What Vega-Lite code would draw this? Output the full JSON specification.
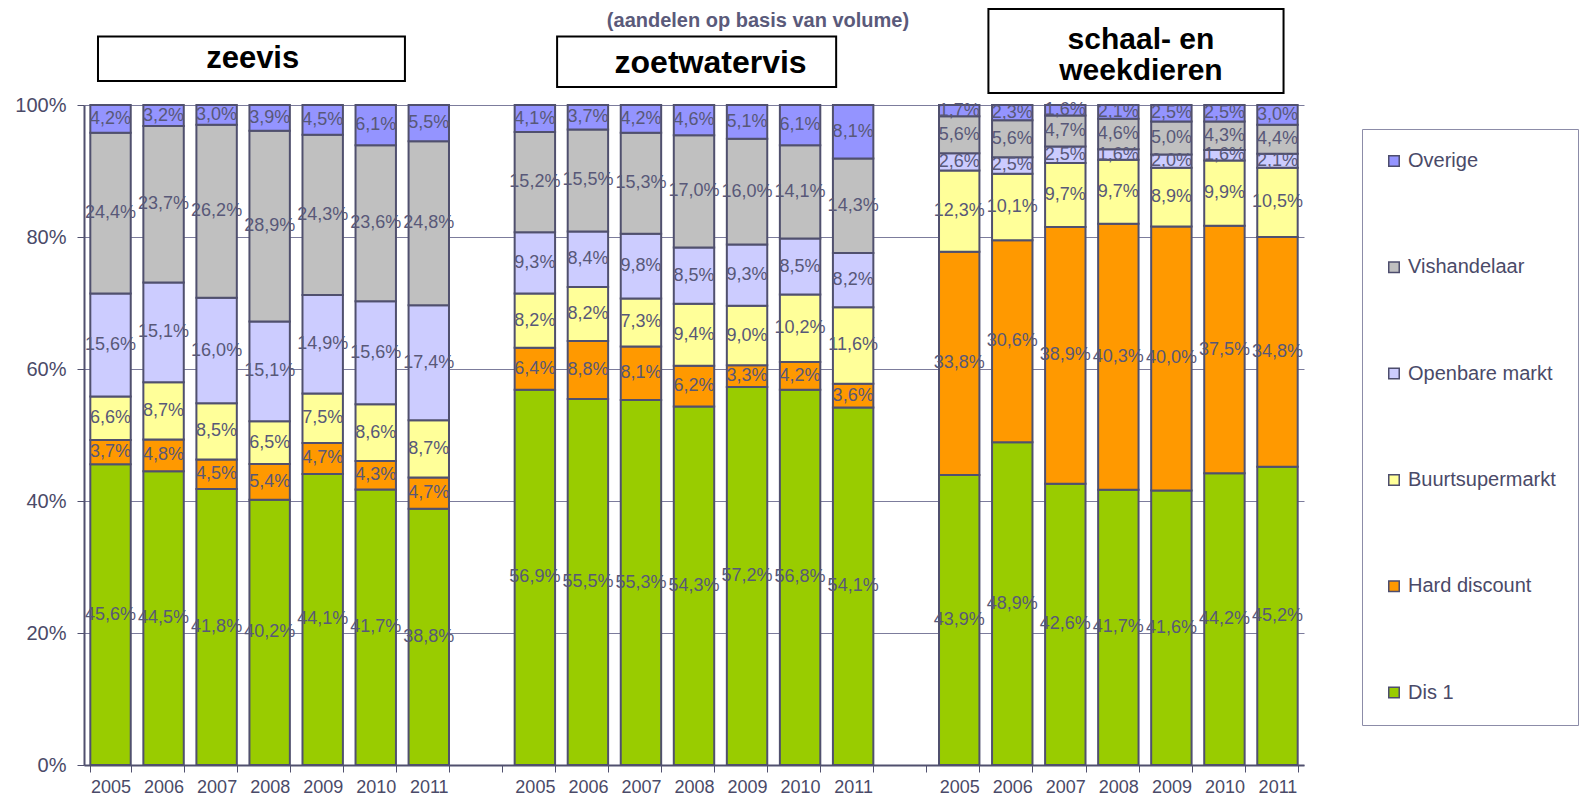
{
  "$schema": "https://vega.github.io/schema/vega-lite/v6.json",
  "width": 1220,
  "height": 660,
  "autosize": {"type": "none"},
  "padding": {"left": 84, "top": 105, "right": 278, "bottom": 32},
  "background": "white",
  "title": {"text": "(aandelen op basis van volume)", "fontSize": 20, "font": "Liberation Sans", "fontWeight": "bold", "color": "#5a5a7a", "frame": "group", "anchor": "middle", "dx": 64, "offset": -23},
  "datasets": {
    "kanalen": [
      {"groep": "zeevis", "jaar": "2005", "Dis 1": 0.456, "Hard discount": 0.037, "Buurtsupermarkt": 0.066, "Openbare markt": 0.156, "Vishandelaar": 0.244, "Overige": 0.042},
      {"groep": "zeevis", "jaar": "2006", "Dis 1": 0.445, "Hard discount": 0.048, "Buurtsupermarkt": 0.087, "Openbare markt": 0.151, "Vishandelaar": 0.237, "Overige": 0.032},
      {"groep": "zeevis", "jaar": "2007", "Dis 1": 0.418, "Hard discount": 0.045, "Buurtsupermarkt": 0.085, "Openbare markt": 0.160, "Vishandelaar": 0.262, "Overige": 0.030},
      {"groep": "zeevis", "jaar": "2008", "Dis 1": 0.402, "Hard discount": 0.054, "Buurtsupermarkt": 0.065, "Openbare markt": 0.151, "Vishandelaar": 0.289, "Overige": 0.039},
      {"groep": "zeevis", "jaar": "2009", "Dis 1": 0.441, "Hard discount": 0.047, "Buurtsupermarkt": 0.075, "Openbare markt": 0.149, "Vishandelaar": 0.243, "Overige": 0.045},
      {"groep": "zeevis", "jaar": "2010", "Dis 1": 0.417, "Hard discount": 0.043, "Buurtsupermarkt": 0.086, "Openbare markt": 0.156, "Vishandelaar": 0.236, "Overige": 0.061},
      {"groep": "zeevis", "jaar": "2011", "Dis 1": 0.388, "Hard discount": 0.047, "Buurtsupermarkt": 0.087, "Openbare markt": 0.174, "Vishandelaar": 0.248, "Overige": 0.055},
      {"groep": "zoetwatervis", "jaar": "2005", "Dis 1": 0.569, "Hard discount": 0.064, "Buurtsupermarkt": 0.082, "Openbare markt": 0.093, "Vishandelaar": 0.152, "Overige": 0.041},
      {"groep": "zoetwatervis", "jaar": "2006", "Dis 1": 0.555, "Hard discount": 0.088, "Buurtsupermarkt": 0.082, "Openbare markt": 0.084, "Vishandelaar": 0.155, "Overige": 0.037},
      {"groep": "zoetwatervis", "jaar": "2007", "Dis 1": 0.553, "Hard discount": 0.081, "Buurtsupermarkt": 0.073, "Openbare markt": 0.098, "Vishandelaar": 0.153, "Overige": 0.042},
      {"groep": "zoetwatervis", "jaar": "2008", "Dis 1": 0.543, "Hard discount": 0.062, "Buurtsupermarkt": 0.094, "Openbare markt": 0.085, "Vishandelaar": 0.170, "Overige": 0.046},
      {"groep": "zoetwatervis", "jaar": "2009", "Dis 1": 0.572, "Hard discount": 0.033, "Buurtsupermarkt": 0.090, "Openbare markt": 0.093, "Vishandelaar": 0.160, "Overige": 0.051},
      {"groep": "zoetwatervis", "jaar": "2010", "Dis 1": 0.568, "Hard discount": 0.042, "Buurtsupermarkt": 0.102, "Openbare markt": 0.085, "Vishandelaar": 0.141, "Overige": 0.061},
      {"groep": "zoetwatervis", "jaar": "2011", "Dis 1": 0.541, "Hard discount": 0.036, "Buurtsupermarkt": 0.116, "Openbare markt": 0.082, "Vishandelaar": 0.143, "Overige": 0.081},
      {"groep": "schaal- en weekdieren", "jaar": "2005", "Dis 1": 0.439, "Hard discount": 0.338, "Buurtsupermarkt": 0.123, "Openbare markt": 0.026, "Vishandelaar": 0.056, "Overige": 0.017},
      {"groep": "schaal- en weekdieren", "jaar": "2006", "Dis 1": 0.489, "Hard discount": 0.306, "Buurtsupermarkt": 0.101, "Openbare markt": 0.025, "Vishandelaar": 0.056, "Overige": 0.023},
      {"groep": "schaal- en weekdieren", "jaar": "2007", "Dis 1": 0.426, "Hard discount": 0.389, "Buurtsupermarkt": 0.097, "Openbare markt": 0.025, "Vishandelaar": 0.047, "Overige": 0.016},
      {"groep": "schaal- en weekdieren", "jaar": "2008", "Dis 1": 0.417, "Hard discount": 0.403, "Buurtsupermarkt": 0.097, "Openbare markt": 0.016, "Vishandelaar": 0.046, "Overige": 0.021},
      {"groep": "schaal- en weekdieren", "jaar": "2009", "Dis 1": 0.416, "Hard discount": 0.400, "Buurtsupermarkt": 0.089, "Openbare markt": 0.020, "Vishandelaar": 0.050, "Overige": 0.025},
      {"groep": "schaal- en weekdieren", "jaar": "2010", "Dis 1": 0.442, "Hard discount": 0.375, "Buurtsupermarkt": 0.099, "Openbare markt": 0.016, "Vishandelaar": 0.043, "Overige": 0.025},
      {"groep": "schaal- en weekdieren", "jaar": "2011", "Dis 1": 0.452, "Hard discount": 0.348, "Buurtsupermarkt": 0.105, "Openbare markt": 0.021, "Vishandelaar": 0.044, "Overige": 0.030}
    ]
  },
  "layer": [
    {
      "data": {"name": "kanalen"},
      "transform": [
        {"calculate": "datum.groep + '|' + datum.jaar", "as": "sleutel"},
        {"fold": ["Dis 1", "Hard discount", "Buurtsupermarkt", "Openbare markt", "Vishandelaar", "Overige"], "as": ["kanaal", "aandeel"]},
        {"calculate": "indexof(['Dis 1', 'Hard discount', 'Buurtsupermarkt', 'Openbare markt', 'Vishandelaar', 'Overige'], datum.kanaal)", "as": "volg"},
        {"stack": "aandeel", "groupby": ["sleutel"], "sort": [{"field": "volg", "order": "ascending"}], "offset": "normalize", "as": ["y0", "y1"]},
        {"calculate": "(datum.y0 + datum.y1) / 2", "as": "ym"},
        {"calculate": "replace(format(datum.aandeel * 100, '.1f'), '.', ',') + '%'", "as": "etiket"}
      ],
      "encoding": {
        "x": {
          "field": "sleutel", "type": "nominal", "sort": null,
          "scale": {
            "domain": ["zeevis|2005", "zeevis|2006", "zeevis|2007", "zeevis|2008", "zeevis|2009", "zeevis|2010", "zeevis|2011", "gap1",
                       "zoetwatervis|2005", "zoetwatervis|2006", "zoetwatervis|2007", "zoetwatervis|2008", "zoetwatervis|2009", "zoetwatervis|2010", "zoetwatervis|2011", "gap2",
                       "schaal- en weekdieren|2005", "schaal- en weekdieren|2006", "schaal- en weekdieren|2007", "schaal- en weekdieren|2008", "schaal- en weekdieren|2009", "schaal- en weekdieren|2010", "schaal- en weekdieren|2011"],
            "paddingInner": 0.238, "paddingOuter": 0.119
          },
          "axis": {
            "title": null,
            "labelExpr": "isString(datum.label) && indexof(datum.label, '|') > 0 ? split(datum.label, '|')[1] : ''",
            "labelAngle": 0, "tickBand": "extent", "tickColor": "#50506e", "tickSize": 7, "tickWidth": 1,
            "domainColor": "#50506e", "domainWidth": 2, "labelFontSize": 18, "labelFont": "Liberation Sans",
            "labelColor": "#4a4a68", "labelPadding": 6, "grid": false
          }
        }
      },
      "layer": [
        {
          "mark": {"type": "bar", "stroke": "#50506e", "strokeWidth": 2},
          "encoding": {
            "y": {
              "field": "y1", "type": "quantitative", "scale": {"domain": [0, 1]},
              "axis": {
                "title": null, "labelExpr": "isNumber(datum.value) ? round(datum.value * 100) + '%' : ''", "values": [0, 0.2, 0.4, 0.6, 0.8, 1], "grid": true,
                "gridColor": "#7c7c9c", "gridWidth": 1, "domainColor": "#50506e", "domainWidth": 2,
                "tickColor": "#50506e", "tickSize": 7, "labelFontSize": 20, "labelFont": "Liberation Sans",
                "labelColor": "#4a4a68", "labelPadding": 11
              }
            },
            "y2": {"field": "y0"},
            "color": {
              "field": "kanaal", "type": "nominal",
              "scale": {
                "domain": ["Overige", "Vishandelaar", "Openbare markt", "Buurtsupermarkt", "Hard discount", "Dis 1"],
                "range": ["#9494ff", "#c0c0c0", "#ccccff", "#ffff99", "#ff9900", "#99cc00"]
              },
              "legend": {
                "title": null,
                "orient": "none", "legendX": 1278, "legendY": 24, "padding": 22,
                "strokeColor": "#8c8ca8", "fillColor": "white", "rowPadding": 86.3,
                "symbolType": "square", "symbolSize": 110, "symbolStrokeColor": "#4d4d6d", "symbolStrokeWidth": 1.5,
                "labelFontSize": 20, "labelFont": "Liberation Sans", "labelColor": "#4a4a68", "labelOffset": 4, "labelLimit": 300
              }
            }
          }
        },
        {
          "mark": {"type": "text", "font": "Liberation Sans", "fontSize": 18, "color": "#585878", "baseline": "middle", "align": "center"},
          "encoding": {
            "y": {"field": "ym", "type": "quantitative", "scale": {"domain": [0, 1]}},
            "text": {"field": "etiket", "type": "nominal"}
          }
        }
      ]
    },
    {
      "data": {"values": [{"kop": "zeevis"}]},
      "layer": [
        {
          "mark": {"type": "rect", "fill": "white", "stroke": "black", "strokeWidth": 2},
          "encoding": {
            "x": {"datum": "zeevis|2005", "type": "nominal", "bandPosition": 0.19},
            "x2": {"datum": "zeevis|2011", "bandPosition": -0.09},
            "y": {"datum": 1.1039, "type": "quantitative", "scale": {"domain": [0, 1]}},
            "y2": {"datum": 1.0365}
          }
        },
        {
          "mark": {"type": "text", "font": "Liberation Sans", "fontWeight": "bold", "fontSize": 31, "color": "black", "baseline": "middle", "align": "center"},
          "encoding": {
            "x": {"datum": "zeevis|2008", "type": "nominal", "bandPosition": 0.08},
            "y": {"datum": 1.0703, "type": "quantitative", "scale": {"domain": [0, 1]}},
            "text": {"field": "kop"}
          }
        }
      ]
    },
    {
      "data": {"values": [{"kop": "zoetwatervis"}]},
      "layer": [
        {
          "mark": {"type": "rect", "fill": "white", "stroke": "black", "strokeWidth": 2},
          "encoding": {
            "x": {"datum": "zoetwatervis|2005", "type": "nominal", "bandPosition": 1.05},
            "x2": {"datum": "zoetwatervis|2011", "bandPosition": 0.08},
            "y": {"datum": 1.1039, "type": "quantitative", "scale": {"domain": [0, 1]}},
            "y2": {"datum": 1.0274}
          }
        },
        {
          "mark": {"type": "text", "font": "Liberation Sans", "fontWeight": "bold", "fontSize": 32, "color": "black", "baseline": "middle", "align": "center"},
          "encoding": {
            "x": {"datum": "zoetwatervis|2008", "type": "nominal", "bandPosition": 0.91},
            "y": {"datum": 1.0641, "type": "quantitative", "scale": {"domain": [0, 1]}},
            "text": {"field": "kop"}
          }
        }
      ]
    },
    {
      "data": {"values": [{"kop": "schaal- en weekdieren"}]},
      "layer": [
        {
          "mark": {"type": "rect", "fill": "white", "stroke": "black", "strokeWidth": 2},
          "encoding": {
            "x": {"datum": "schaal- en weekdieren|2006", "type": "nominal", "bandPosition": -0.09},
            "x2": {"datum": "schaal- en weekdieren|2011", "bandPosition": 0.65},
            "y": {"datum": 1.1453, "type": "quantitative", "scale": {"domain": [0, 1]}},
            "y2": {"datum": 1.0182}
          }
        },
        {
          "mark": {"type": "text", "font": "Liberation Sans", "fontWeight": "bold", "fontSize": 30, "color": "black", "baseline": "middle", "align": "center", "lineHeight": 31},
          "encoding": {
            "x": {"datum": "schaal- en weekdieren|2008", "type": "nominal", "bandPosition": 1.06},
            "y": {"datum": 1.0979, "type": "quantitative", "scale": {"domain": [0, 1]}},
            "text": {"value": ["schaal- en", "weekdieren"]}
          }
        }
      ]
    }
  ],
  "config": {
    "view": {"stroke": null}
  }
}
